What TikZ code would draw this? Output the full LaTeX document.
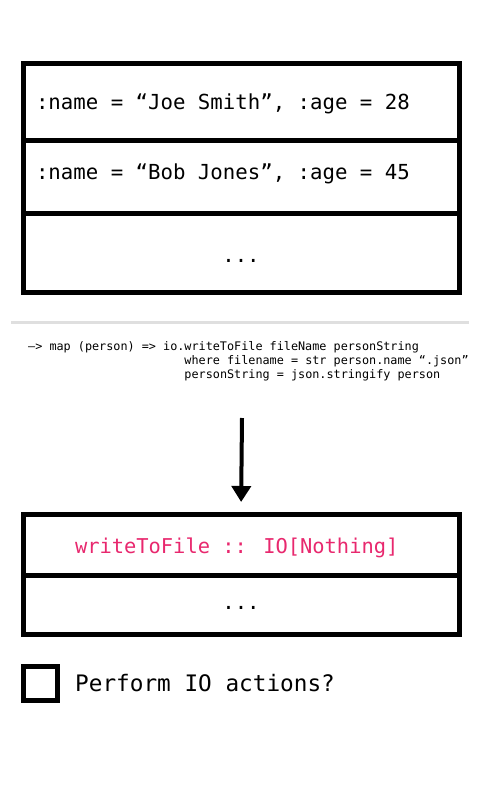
\documentclass[tikz,border=0pt]{standalone}
\usepackage{fontspec}
\setmainfont{DejaVu Sans Mono}
\usetikzlibrary{positioning,arrows.meta}
\definecolor{iopink}{RGB}{232,40,110}

\tikzset{
  row/.style={draw, line width=5pt, outer sep=0pt, inner xsep=13pt, inner ysep=0pt,
    text width=410pt, minimum width=436pt, text depth=0pt, font=\fontsize{20.7}{24}\selectfont},
  record/.style={row, align=flush left},
  more/.style={row, align=flush center},
  effect/.style={row, align=flush left, inner xsep=52pt, text width=332pt,
    text=iopink, font=\fontsize{20.4}{24}\selectfont},
  codetext/.style={inner sep=0pt, align=left, font=\fontsize{11.8}{14}\selectfont},
  tickbox/.style={draw, line width=5pt, minimum size=34pt, inner sep=0pt},
  flow/.style={line width=4pt, -{Triangle[length=16pt,width=19pt]}}
}

\begin{document}
\begin{tikzpicture}[x=1pt, y=-1pt]
  \useasboundingbox (0,0) rectangle (480,800);
  % records before the map
  \node[record, minimum height=76pt, text height=14pt] (joe) at (241,102) {:name = “Joe Smith”, :age = 28};
  \node[record, minimum height=73pt, text height=5pt, below=0pt of joe] (bob) {:name = “Bob Jones”, :age = 45};
  \node[more, minimum height=79pt, text height=19pt, below=0pt of bob] (rest) {...};

  \draw[gray!25, line width=3pt] (11,322) -- (469,322);

  \node[codetext, anchor=west] (code) at (28,361)
    {–> map (person) => io.writeToFile fileName personString\\
     \phantom{–> map (person) => io.}where filename = str person.name “.json”\\
     \phantom{–> map (person) => io.}personString = json.stringify person};

  % records after the map
  \node[effect, minimum height=61pt, text height=17pt] (io) at (241,544.5) {writeToFile :: IO[Nothing]};
  \node[more, minimum height=59pt, text height=9pt, below=0pt of io] (iorest) {...};

  \coordinate (mapstart) at (242,418);
  \draw[flow, shorten >=12pt] (mapstart) -- (io.north);

  \node[tickbox] (check) at (40,683.5) {};
  \node[right=15.5pt of check, inner sep=0pt, font=\fontsize{22.7}{26}\selectfont] (perform) {Perform IO actions?};
\end{tikzpicture}
\end{document}
